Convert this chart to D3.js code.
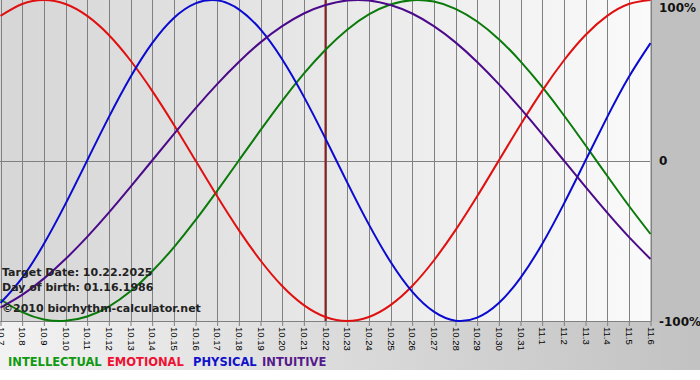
<!DOCTYPE html>
<html lang="en">
<head>
<meta charset="UTF-8">
<title>Biorhythm</title>
<script src="https://cdn.jsdelivr.net/npm/d3@7"></script>
<style>
    body { margin: 0; background: #fff; }
    text { font-family: "DejaVu Sans", Verdana, sans-serif; font-weight: bold; }
</style>
</head>
<body>
<script>
    // dates on the x axis (month.day)
    var dates = ["10.7", "10.8", "10.9", "10.10", "10.11", "10.12", "10.13", "10.14", "10.15", "10.16",
        "10.17", "10.18", "10.19", "10.20", "10.21", "10.22", "10.23", "10.24", "10.25", "10.26",
        "10.27", "10.28", "10.29", "10.30", "10.31", "11.1", "11.2", "11.3", "11.4", "11.5", "11.6"];

    var physical = [-0.888, -0.731, -0.520, -0.270, 0, 0.270, 0.520, 0.731, 0.888, 0.979,
        0.998, 0.942, 0.817, 0.631, 0.398, 0.136, -0.136, -0.398, -0.631, -0.817,
        -0.942, -0.998, -0.979, -0.888, -0.731, -0.520, -0.270, 0, 0.270, 0.520, 0.731];
    var emotional = [0.901, 0.975, 1.000, 0.975, 0.901, 0.782, 0.623, 0.434, 0.223, 0,
        -0.223, -0.434, -0.623, -0.782, -0.901, -0.975, -1.000, -0.975, -0.901, -0.782,
        -0.623, -0.434, -0.223, 0, 0.223, 0.434, 0.623, 0.782, 0.901, 0.975, 1.000];
    var intellectual = [-0.866, -0.945, -0.990, -0.999, -0.972, -0.910, -0.815, -0.690, -0.541, -0.372,
        -0.189, 0, 0.189, 0.372, 0.541, 0.690, 0.815, 0.910, 0.972, 0.999,
        0.990, 0.945, 0.866, 0.756, 0.618, 0.458, 0.282, 0.095, -0.095, -0.282, -0.458];
    var intuitive = [-0.916, -0.837, -0.736, -0.614, -0.476, -0.325, -0.165, 0, 0.165, 0.325,
        0.476, 0.614, 0.736, 0.837, 0.916, 0.969, 0.997, 0.997, 0.969, 0.916,
        0.837, 0.736, 0.614, 0.476, 0.325, 0.165, 0, -0.165, -0.325, -0.476, -0.614];

    var percentTicks = [1, 0, -1];
    var percentLabels = ["100%", "0", "-100%"];
    var targetDate = "10.22";
    var infoLines = ["Target Date: 10.22.2025", "Day of birth: 01.16.1986", "\u00a92010 biorhythm-calculator.net"];
    var legendNames = ["INTELLECTUAL", "EMOTIONAL", "PHYSICAL", "INTUITIVE"];

    var width = 700, height = 380;
    var plotW = 650, plotH = 321;

    var svg = d3.select("body").append("svg").attr("width", width).attr("height", height);
    var defs = svg.append("defs");

    var g1 = defs.append("linearGradient").attr("id", "plotBg");
    g1.append("stop").attr("offset", "0%").attr("stop-color", "#d6d6d6");
    g1.append("stop").attr("offset", "100%").attr("stop-color", "#fafafa");

    var g2 = defs.append("linearGradient").attr("id", "footBg");
    g2.append("stop").attr("offset", "0%").attr("stop-color", "#f2f2f2");
    g2.append("stop").attr("offset", "100%").attr("stop-color", "#c2c2c2");

    // backgrounds
    svg.append("rect").attr("x", 0).attr("y", 0).attr("width", width).attr("height", 370).attr("fill", "url(#footBg)");
    svg.append("rect").attr("x", plotW).attr("y", 0).attr("width", width - plotW).attr("height", plotH + 1).attr("fill", "#c0c0c0");
    svg.append("rect").attr("x", 0).attr("y", 0).attr("width", plotW).attr("height", plotH).attr("fill", "url(#plotBg)");

    var x = d3.scalePoint().domain(dates).range([0.5, plotW + 0.5]);
    var y = d3.scaleLinear().domain([-1, 1]).range([plotH, 0]);

    // ticks + rotated date labels
    var xAxis = svg.append("g").attr("transform", "translate(0," + plotH + ")")
        .call(d3.axisBottom(x).tickSize(5).tickSizeOuter(0));
    xAxis.select(".domain").remove();
    xAxis.selectAll("line").attr("stroke", "#808080");
    xAxis.selectAll("text")
        .attr("transform", "rotate(90)")
        .attr("x", 6).attr("y", 0).attr("dy", "0.35em")
        .attr("text-anchor", "start")
        .style("font-family", "'Liberation Sans', Arial, sans-serif")
        .style("font-size", "9.5px").style("font-weight", "normal")
        .attr("fill", "#000");

    // vertical grid
    svg.append("g").selectAll("line").data(dates).join("line")
        .attr("x1", function(d) { return Math.round(x(d)) + 0.5; })
        .attr("x2", function(d) { return Math.round(x(d)) + 0.5; })
        .attr("y1", 0).attr("y2", plotH)
        .attr("stroke", "#808080").attr("stroke-width", 1);

    svg.append("line").attr("x1", 0).attr("x2", plotW).attr("y1", Math.round(y(0)) + 0.5).attr("y2", Math.round(y(0)) + 0.5)
        .attr("stroke", "#808080");
    svg.append("line").attr("x1", 0).attr("x2", plotW + 1).attr("y1", plotH + 0.5).attr("y2", plotH + 0.5)
        .attr("stroke", "#808080");

    // right side labels
    svg.append("g").selectAll("text").data(percentTicks).join("text")
        .attr("x", 659)
        .attr("y", function(d) { return Math.min(Math.max(y(d), 7.5), 322); })
        .attr("dy", "0.38em")
        .style("font-size", "12px").attr("fill", "#111")
        .text(function(d, i) { return percentLabels[i]; });

    // target date line
    svg.append("line")
        .attr("x1", x(targetDate)).attr("x2", x(targetDate))
        .attr("y1", 0).attr("y2", plotH)
        .attr("stroke", "#8a2020").attr("stroke-width", 2);

    var line = d3.line()
        .x(function(d, i) { return x(dates[i]); })
        .y(function(d) { return y(d); })
        .curve(d3.curveNatural);

    var series = [
        { values: intellectual, color: "#0a7a0a" },
        { values: emotional, color: "#e01010" },
        { values: physical, color: "#0a0ad0" },
        { values: intuitive, color: "#4b0a8a" }
    ];

    svg.append("g").selectAll("path").data(series).join("path")
        .attr("d", function(d) { return line(d.values); })
        .attr("fill", "none")
        .attr("stroke", function(d) { return d.color; })
        .attr("stroke-width", 2);

    // info text
    svg.append("g").selectAll("text").data(infoLines).join("text")
        .attr("x", 2)
        .attr("y", function(d, i) { return [276, 291, 312][i]; })
        .style("font-size", "11px").attr("fill", "#222")
        .text(function(d) { return d; });

    // legend
    var legendColors = ["#119911", "#ee1133", "#1111cc", "#551a8b"];
    var legendX = [8, 107, 193, 262];
    svg.append("g").selectAll("text").data(legendNames).join("text")
        .attr("x", function(d, i) { return legendX[i]; })
        .attr("y", 366)
        .style("font-size", "11.5px")
        .attr("fill", function(d, i) { return legendColors[i]; })
        .text(function(d) { return d; });
</script>
</body>
</html>
